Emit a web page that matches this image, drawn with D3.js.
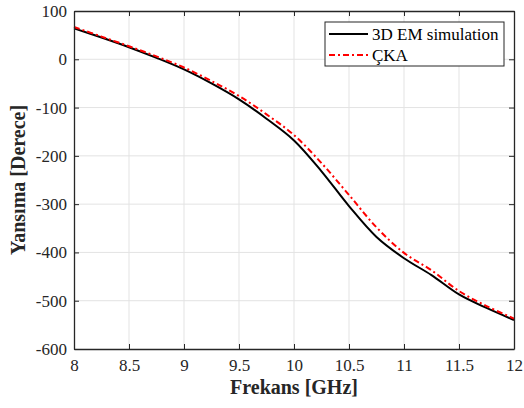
<!DOCTYPE html>
<html>
<head>
<meta charset="utf-8">
<script src="https://cdn.jsdelivr.net/npm/d3@7"></script>
<style>
  html, body { margin: 0; padding: 0; background: #fff; }
  svg { display: block; }
  svg text { font-family: "Liberation Serif", "Times New Roman", serif !important; }
</style>
</head>
<body>
<svg id="chart" width="524" height="408"></svg>
<script>
// Data
const freq = [8.0, 8.25, 8.5, 8.75, 9.0, 9.25, 9.5, 9.75, 10.0, 10.25, 10.5, 10.75, 11.0, 11.25, 11.5, 11.75, 12.0];
const emSim = [64, 45, 25, 3, -21, -50, -83, -123, -168, -232, -304, -368, -412, -447, -487, -515, -540];
const cka   = [67, 47, 27, 6, -17, -45, -76, -114, -157, -215, -281, -348, -401, -437, -480, -511, -537];
const xTicks = [8, 8.5, 9, 9.5, 10, 10.5, 11, 11.5, 12];
const yTicks = [-600, -500, -400, -300, -200, -100, 0, 100];
const seriesNames = ["3D EM simulation", "ÇKA"];
const xLabel = "Frekans [GHz]";
const yLabel = "Yansıma [Derece]";

const FONT = '"Liberation Serif", "Times New Roman", serif';
const svg = d3.select("#chart");
const m = { left: 74, right: 10, top: 11, bottom: 59 };
const W = 524, H = 408;
const x = d3.scaleLinear().domain([8, 12]).range([m.left, W - m.right]);
const y = d3.scaleLinear().domain([-600, 100]).range([H - m.bottom, m.top]);

// grid
const g = svg.append("g");
g.selectAll(".gx").data(xTicks.slice(1, -1)).join("line")
  .attr("x1", d => x(d)).attr("x2", d => x(d))
  .attr("y1", y(100)).attr("y2", y(-600))
  .attr("stroke", "#e3e3e3").attr("stroke-width", 1);
g.selectAll(".gy").data(yTicks.slice(1, -1)).join("line")
  .attr("y1", d => y(d)).attr("y2", d => y(d))
  .attr("x1", x(8)).attr("x2", x(12))
  .attr("stroke", "#e3e3e3").attr("stroke-width", 1);

// lines
const line = (vals) => d3.line()
  .x((d, i) => x(freq[i]))
  .y(d => y(d))
  .curve(d3.curveCatmullRom.alpha(0.5))(vals);

svg.append("path").attr("d", line(emSim))
  .attr("fill", "none").attr("stroke", "#000").attr("stroke-width", 2);
svg.append("path").attr("d", line(cka))
  .attr("fill", "none").attr("stroke", "#ff0000").attr("stroke-width", 2)
  .attr("stroke-dasharray", "6,3,2,3");

// axes (ticks inward)
const fontSize = 17;
const axB = svg.append("g").attr("transform", `translate(0,${y(-600)})`)
  .call(d3.axisBottom(x).tickValues(xTicks).tickSizeInner(-5).tickSizeOuter(0).tickPadding(10).tickFormat(d3.format("")));
const axT = svg.append("g").attr("transform", `translate(0,${y(100)})`)
  .call(d3.axisTop(x).tickValues(xTicks).tickSizeInner(-5).tickSizeOuter(0).tickFormat(""));
const axL = svg.append("g").attr("transform", `translate(${x(8)},0)`)
  .call(d3.axisLeft(y).tickValues(yTicks).tickSizeInner(-5).tickSizeOuter(0).tickPadding(7).tickFormat(d => String(d)));
const axR = svg.append("g").attr("transform", `translate(${x(12)},0)`)
  .call(d3.axisRight(y).tickValues(yTicks).tickSizeInner(-5).tickSizeOuter(0).tickFormat(""));
[axB, axT, axL, axR].forEach(a => {
  a.attr("font-family", FONT).attr("font-size", fontSize);
  a.select(".domain").attr("stroke", "#262626").attr("stroke-width", 1.3);
  a.selectAll(".tick line").attr("stroke", "#262626").attr("stroke-width", 1);
  a.selectAll("text").style("font-family", FONT).style("font-size", fontSize + "px").attr("fill", "#262626");
});

// axis labels
svg.append("text").attr("x", (x(8) + x(12)) / 2).attr("y", 394)
  .attr("text-anchor", "middle").attr("font-weight", "bold").attr("font-size", 20)
  .attr("fill", "#262626").style("font-family", FONT)
  .text(xLabel);
svg.append("text").attr("transform", `translate(25,${(y(100) + y(-600)) / 2}) rotate(-90)`)
  .attr("text-anchor", "middle").attr("font-weight", "bold").attr("font-size", 20)
  .attr("fill", "#262626").style("font-family", FONT)
  .text(yLabel);

// legend
const lg = svg.append("g");
lg.append("rect").attr("x", 325).attr("y", 22).attr("width", 179).attr("height", 44)
  .attr("fill", "#fff").attr("stroke", "#262626").attr("stroke-width", 1);
const styles = [
  { color: "#000", dash: null },
  { color: "#ff0000", dash: "6,3,2,3" }
];
seriesNames.forEach((name, i) => {
  const yy = 34 + i * 21;
  lg.append("line").attr("x1", 329).attr("x2", 368).attr("y1", yy).attr("y2", yy)
    .attr("stroke", styles[i].color).attr("stroke-width", 2)
    .attr("stroke-dasharray", styles[i].dash);
  lg.append("text").attr("x", 372).attr("y", yy + 5.5)
    .attr("font-size", 17).attr("fill", "#000").style("font-family", FONT).text(name.normalize("NFC"));
});
</script>
</body>
</html>
